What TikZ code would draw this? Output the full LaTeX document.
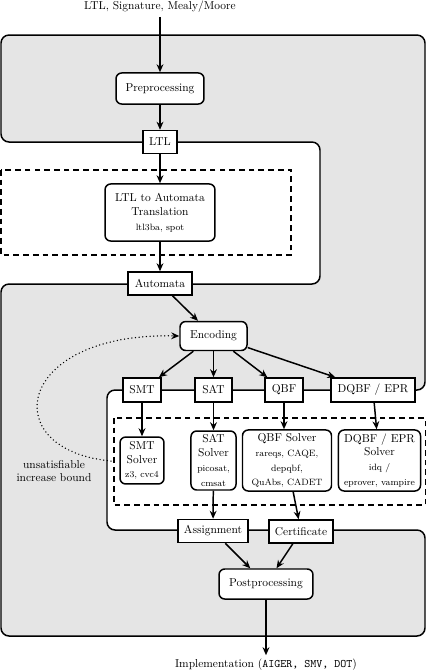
\documentclass[tikz,border=0pt]{standalone}
\usetikzlibrary{arrows.meta}
\begin{document}
\begin{tikzpicture}[x=0.873pt,y=-0.873pt,
  box/.style={draw, line width=1.3pt, fill=white, inner sep=1pt, align=center},
  rbox/.style={box, rounded corners=5pt},
  arr/.style={-{Stealth[length=7pt,width=6pt]}, line width=1.3pt},
  dbox/.style={draw, line width=1.3pt, dash pattern=on 5pt off 3.5pt},
  region/.style={draw, line width=1.3pt, fill=gray!20, rounded corners=7pt}
]
\useasboundingbox (0,0) rectangle (427,671);
\fill[white] (0,0) rectangle (427,671);
% shaded regions
\path[region] (1,284) -- (320,284) -- (320,142) -- (1,142) -- (1,35) -- (425,35) -- (425,390) -- (107,390) -- (107,530) -- (425,530) -- (425,636) -- (1,636) -- cycle;
% dashed groups
\path[dbox] (1,170) rectangle (291,255);
\path[dbox] (114,418) rectangle (425.5,505);

% nodes
\node (input) at (160,7) {LTL, Signature, Mealy/Moore};
\node[rbox, minimum width=76.8pt, minimum height=27.1pt] (pre) at (160,88.5) {Preprocessing};
\node[box, minimum width=29.7pt, minimum height=20.1pt] (ltl) at (160,142) {LTL};
\node[rbox, minimum width=96pt, minimum height=49.8pt] (trans) at (160,212.5) {LTL to Automata\\Translation\\[1pt]{\footnotesize ltl3ba, spot}};
\node[box, minimum width=55.9pt, minimum height=20.1pt] (auto) at (160,283.5) {Automata};
\node[rbox, minimum width=58.5pt, minimum height=25.3pt] (enc) at (213.5,336) {Encoding};

\node[box, minimum width=33.2pt, minimum height=21pt] (smt) at (142,390) {SMT};
\node[box, minimum width=32.3pt, minimum height=21pt] (sat) at (213.5,390) {SAT};
\node[box, minimum width=33.2pt, minimum height=21pt] (qbf) at (284,390) {QBF};
\node[box, minimum width=73.3pt, minimum height=21pt] (dqbf) at (373,390) {DQBF / EPR};

\node[rbox, minimum width=38.4pt, minimum height=41pt] (smts) at (142,460.5) {SMT\\Solver\\[1pt]{\footnotesize z3, cvc4}};
\node[rbox, minimum width=39.3pt, minimum height=51.5pt] (sats) at (213.5,460.5) {SAT\\Solver\\[1pt]{\footnotesize picosat,}\\[1pt]{\footnotesize cmsat}};
\node[rbox, minimum width=77.7pt, minimum height=53.3pt] (qbfs) at (287,460.5) {QBF Solver\\[1pt]{\footnotesize rareqs, CAQE,}\\[1pt]{\footnotesize depqbf,}\\[1pt]{\footnotesize QuAbs, CADET}};
\node[rbox, minimum width=71.6pt, minimum height=53.3pt] (dqbfs) at (379.5,460.5) {DQBF / EPR\\Solver\\[1pt]{\footnotesize idq /}\\[1pt]{\footnotesize eprover, vampire}};

\node[box, minimum width=61.1pt, minimum height=20.1pt] (assign) at (213,531) {Assignment};
\node[box, minimum width=55.9pt, minimum height=20.1pt] (cert) at (301,531.5) {Certificate};
\node[rbox, minimum width=82pt, minimum height=26.2pt] (post) at (266,584) {Postprocessing};
\node (impl) at (266,665) {Implementation (\texttt{AIGER, SMV, DOT})};

\node[align=center] (unsat) at (54,471) {unsatisfiable\\increase bound};
\coordinate (loopstart) at (111,461);

% connectors
\draw[arr] (input) -- (pre);
\draw[arr] (pre) -- (ltl);
\draw[arr] (ltl) -- (trans);
\draw[arr] (trans) -- (auto);
\draw[arr] (auto) -- (enc);
\draw[arr] (enc) -- (smt);
\draw[arr] (enc) -- (sat);
\draw[arr] (enc) -- (qbf);
\draw[arr] (enc) -- (dqbf);
\draw[arr] (smt) -- (smts);
\draw[arr] (sat) -- (sats);
\draw[arr] (qbf.south) -- (qbf.south |- qbfs.north);
\draw[arr] (dqbf) -- (dqbfs);
\draw[arr] (sats) -- (assign);
\draw[arr] (qbfs) -- (cert);
\draw[arr] (assign) -- (post);
\draw[arr] (cert) -- (post);
\draw[arr] (post) -- (impl);
\draw[-{Stealth[length=7pt,width=6pt]}, line width=1.3pt, line cap=round, dash pattern=on 0pt off 3.2pt] (loopstart) .. controls (-5,450) and (15,332) .. (enc.west);
\end{tikzpicture}
\end{document}
